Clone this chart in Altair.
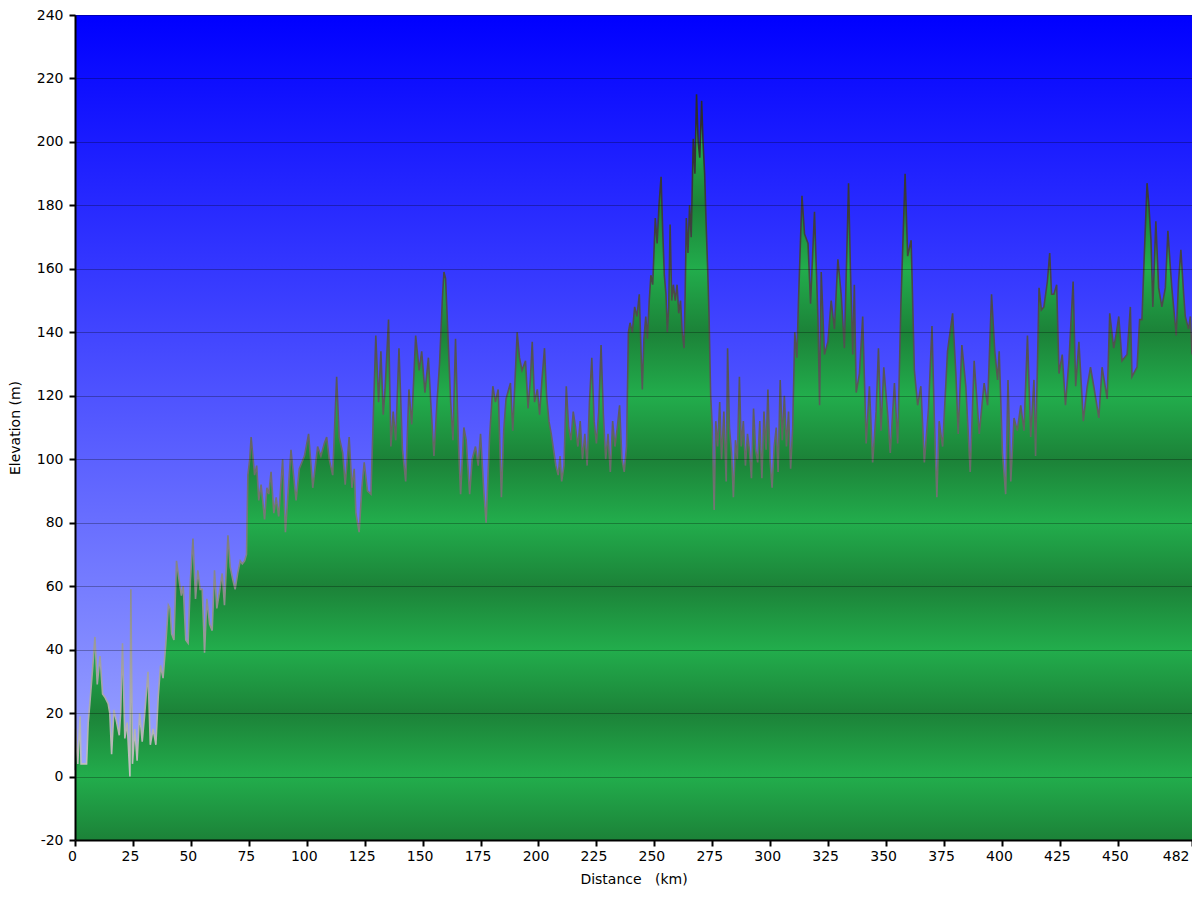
import altair as alt
import pandas as pd

# ---------------- data ----------------
distance_km = [
    0.0, 0.3, 0.8, 1.2, 2.2, 2.6, 5.0, 5.7, 6.4, 7.6, 8.6, 9.6, 10.8, 11.9, 12.9, 14.3, 15.0, 15.8,
    16.8, 18.0, 19.1, 19.7, 20.5, 21.5, 22.5, 23.7, 24.1, 24.8, 25.8, 26.8, 27.9, 29.0, 30.0, 31.5,
    32.5, 33.7, 34.9, 35.9, 36.9, 38.0, 39.2, 40.3, 41.0, 41.7, 42.7, 43.8, 44.9, 45.9, 46.7, 47.8,
    48.8, 49.8, 50.9, 52.0, 53.0, 54.0, 54.9, 55.9, 56.9, 58.1, 59.2, 60.2, 61.2, 62.3, 63.5, 64.5,
    66.0, 67.0, 68.1, 69.1, 70.2, 71.3, 72.2, 73.2, 74.0, 74.6, 75.4, 76.0,
    77.5, 78.4, 79.3, 80.3, 81.8, 82.8, 83.6, 84.6, 85.8, 86.8, 87.9, 89.6, 90.8, 93.2, 95.4, 96.8,
    99.0, 100.8, 102.6, 104.7, 106.1, 107.6, 108.6, 109.7, 111.2, 112.9, 114.0, 115.5, 116.6, 118.3,
    119.5, 120.5, 121.2, 122.6, 123.8, 124.8, 126.2, 127.7, 128.7, 129.8, 131.0, 132.0, 133.0, 133.8,
    135.3, 136.3, 137.3, 138.4, 139.8, 141.3, 142.7, 144.1, 145.3, 147.0, 148.5, 149.6, 151.0, 152.5,
    153.5, 154.9, 156.3, 157.3, 158.5, 159.2, 159.9, 160.6, 162.1, 163.1, 164.2, 165.4, 166.4, 167.8,
    168.8, 170.3, 171.4, 172.8, 174.0, 175.0, 176.4, 177.4, 178.9, 180.3, 181.4, 182.6, 184.0, 185.0,
    186.0, 187.9, 188.9, 190.8, 191.8, 192.9, 194.4, 195.5,
    196.5, 197.3, 198.3, 199.5, 200.5, 201.5, 202.6, 203.5, 204.5, 205.5, 206.5, 207.5, 208.5, 209.3,
    210.0, 211.0, 212.0, 213.0, 214.0, 215.0, 216.0, 217.0, 218.0, 219.0, 220.0, 221.0, 222.0, 223.0,
    224.0, 225.0, 226.0, 227.0, 228.0, 229.0, 230.0, 231.0, 232.0, 233.0, 234.0, 235.0, 236.0, 237.0,
    238.0,
    238.8, 239.5, 240.5, 241.5, 242.5, 243.5, 244.2, 244.8, 245.5, 246.3, 247.0, 247.8, 248.5, 249.3,
    250.4, 251.2, 252.0, 252.9, 253.6, 254.3, 255.0, 255.6, 256.2, 256.8, 257.5, 258.2, 259.0, 259.8,
    260.5, 261.3, 262.0, 262.8, 263.3, 263.8, 264.5, 265.2, 265.9, 266.8, 267.5, 268.2, 268.9, 269.6,
    270.4, 271.0, 271.7, 272.3, 273.0, 273.6, 274.3, 275.0, 275.8,
    276.5, 277.3, 278.2, 279.0, 280.0, 281.0, 281.6, 282.4, 283.3, 284.1, 285.0, 285.8, 286.7, 287.5,
    288.4, 289.3, 290.2, 291.0, 291.9, 292.8, 293.7, 294.6, 295.5, 296.4, 297.3, 298.2, 299.0, 299.9,
    300.8, 301.7, 302.6, 303.4, 304.3, 305.2, 306.1, 307.0, 307.9, 308.8, 309.7, 310.6, 311.5,
    312.2, 313.7, 314.8, 316.3, 317.4, 319.1, 320.6, 321.3, 322.0, 323.4, 324.9, 326.3, 327.7, 329.2,
    330.6, 332.0, 333.8, 334.6, 335.6, 336.3, 337.1, 338.5, 339.9, 341.4, 342.8, 344.2, 345.7, 346.7,
    347.8, 349.0, 350.7, 351.8, 353.6, 355.0, 356.4, 358.2, 359.3, 360.8, 362.2, 363.6, 365.0, 366.5,
    368.3, 369.8, 370.8, 371.9, 372.9, 374.4, 376.5, 378.7, 380.1, 381.1, 382.7, 384.4, 386.3, 388.0,
    390.2, 392.3, 393.8, 395.5, 396.9, 398.1, 398.8, 400.2, 401.6, 402.6, 403.8, 405.2, 406.6, 408.1,
    409.5, 411.0, 412.4, 413.8, 414.5, 416.0, 417.0, 418.1, 419.6, 420.6, 421.4, 422.4, 423.6, 424.6,
    426.0, 427.4, 428.9, 430.7, 431.8, 433.2, 435.1, 436.8, 438.2, 439.6, 441.8, 443.2, 445.4, 446.5,
    448.2, 449.4, 450.4, 451.8, 454.0, 455.4, 456.1, 458.3, 459.4, 460.4, 461.4, 462.6, 463.4, 464.3,
    465.1, 466.4, 467.6, 469.0, 470.5, 471.6, 472.6, 473.3, 475.2, 476.2, 477.2, 478.4, 479.1, 480.5,
    481.3, 482.0,
]

elevation_m = [
    2, 15, 8, 4, 19, 4, 4, 17, 23, 34, 44, 29, 38, 26, 25, 23, 20, 7,
    21, 17, 13, 20, 42, 12, 17, 0, 59, 4, 15, 5, 20, 11, 19, 33,
    10, 15, 10, 25, 35, 31, 42, 54, 53, 45, 43, 68, 62, 57, 60, 43,
    42, 62, 75, 56, 65, 59, 59, 39, 56, 48, 46, 65, 53, 58, 64, 54,
    76, 66, 62, 59, 64, 68, 67, 68, 70, 95, 100, 107,
    95, 98, 87, 92, 81, 91, 89, 96, 83, 88, 82, 100, 77, 103, 87, 97,
    101, 108, 91, 104, 101, 105, 107, 100, 95, 126, 107, 102, 92, 107,
    91, 97, 83, 77, 91, 99, 90, 89, 113, 139, 118, 134, 114, 122,
    144, 104, 115, 106, 135, 103, 93, 122, 111, 139, 128, 134, 121, 132,
    118, 101, 119, 130, 150, 159, 157, 145, 118, 106, 138, 106, 89, 110,
    106, 89, 100, 104, 98, 108, 90, 80, 107, 123, 118, 122, 88, 109,
    119, 124, 109, 140, 132, 128, 131, 116,
    125, 137, 118, 122, 114, 125, 135, 120, 112, 108, 103, 98, 95, 101,
    93, 98, 123, 110, 106, 115, 110, 104, 112, 100, 108, 98, 118, 132,
    112, 105, 115, 136, 114, 100, 108, 96, 112, 104, 110, 117, 100, 96,
    104,
    140, 143, 140, 148, 145, 152, 135, 122, 138, 145, 138, 150, 158, 155,
    176, 168, 180, 189, 172, 158, 152, 140, 148, 174, 150, 155, 150, 155,
    146, 150, 140, 135, 152, 176, 165, 180, 170, 201, 190, 215, 200, 195,
    213, 200, 190, 175, 160, 145, 120, 110, 84,
    112, 104, 118, 100, 115, 93, 135, 110, 102, 88, 106, 100, 126, 104,
    112, 98, 108, 103, 94, 116, 103, 99, 112, 94, 115, 103, 122, 100,
    91, 104, 110, 96, 125, 106, 120, 104, 115, 97, 110, 140, 132,
    150, 183, 171, 168, 149, 178, 144, 117, 159, 133, 137, 150, 141, 163,
    152, 135, 187, 160, 133, 155, 121, 127, 145, 105, 123, 99, 115, 135,
    109, 129, 114, 102, 124, 105, 149, 190, 164, 169, 128, 117, 123, 99,
    116, 142, 113, 88, 112, 104, 134, 146, 127, 108, 136, 123, 96, 131,
    108, 124, 117, 152, 134, 125, 134, 102, 89, 125, 93, 113, 109, 117,
    109, 139, 107, 125, 101, 154, 147, 148, 156, 165, 152, 152, 155, 127,
    133, 117, 131, 156, 123, 137, 112, 123, 129, 123, 113, 129, 119, 146,
    135, 140, 145, 131, 133, 148, 126, 129, 144, 144, 164, 187, 180, 169,
    148, 175, 154, 148, 154, 172, 161, 154, 139, 156, 166, 152, 145, 141,
    145, 133,
]

x_tick_values = [0, 25, 50, 75, 100, 125, 150, 175, 200, 225, 250, 275, 300,
                 325, 350, 375, 400, 425, 450, 482]
y_tick_values = [-20, 0, 20, 40, 60, 80, 100, 120, 140, 160, 180, 200, 220, 240]

X_MIN, X_MAX = 0, 482
Y_MIN, Y_MAX = -20, 240

df = pd.DataFrame({"distance_km": distance_km, "elevation_m": elevation_m})

# ---------------- styles ----------------
FONT = "DejaVu Sans"
FS = 14
GREEN_BRIGHT = "#22ad4c"
GREEN_DARK = "#1c8238"


def _mix(c1, c2, t):
    a = [int(c1[i:i + 2], 16) for i in (1, 3, 5)]
    b = [int(c2[i:i + 2], 16) for i in (1, 3, 5)]
    return "#" + "".join(f"{round(a[k] + (b[k] - a[k]) * t):02x}" for k in range(3))


# banded green fill: bright at multiples of 40 m, dark in between
vmax = max(elevation_m)
span = vmax - Y_MIN
green_stops = []
top_level = (vmax // 20) * 20
frac = (vmax - top_level) / 20.0
top_base = GREEN_BRIGHT if top_level % 40 == 0 else GREEN_DARK
top_next = GREEN_DARK if top_level % 40 == 0 else GREEN_BRIGHT
green_stops.append(alt.GradientStop(color=_mix(top_base, top_next, frac), offset=0))
for lvl in range(int(top_level), Y_MIN - 1, -20):
    off = (vmax - lvl) / span
    col = GREEN_BRIGHT if lvl % 40 == 0 else GREEN_DARK
    green_stops.append(alt.GradientStop(color=col, offset=min(max(off, 0), 1)))

area_fill = alt.LinearGradient(gradient="linear", stops=green_stops, x1=0, x2=0, y1=0, y2=1)

line_stroke = alt.LinearGradient(
    gradient="linear",
    stops=[
        alt.GradientStop(color="#2a2a2a", offset=0),
        alt.GradientStop(color="#5a5a5a", offset=0.45),
        alt.GradientStop(color="#959595", offset=0.78),
        alt.GradientStop(color="#c2c2c2", offset=1),
    ],
    x1=0, x2=0, y1=0, y2=1,
)

sky_fill = alt.LinearGradient(
    gradient="linear",
    stops=[
        alt.GradientStop(color="#0000ff", offset=0),
        alt.GradientStop(color="#aab4ff", offset=1),
    ],
    x1=0, x2=0, y1=0, y2=1,
)

x_scale = alt.Scale(domain=[X_MIN, X_MAX], nice=False, zero=False)
y_scale = alt.Scale(domain=[Y_MIN, Y_MAX], nice=False, zero=False)

hyphen_label = "datum.value < 0 ? '-' + abs(datum.value) : '' + datum.value"

x_axis = alt.Axis(
    values=x_tick_values,
    title="Distance\u00a0\u00a0\u00a0(km)",
    grid=False,
    domainColor="black", domainWidth=2,
    tickColor="black", tickWidth=2, tickSize=6,
    labelFont=FONT, labelFontSize=FS, labelColor="black",
    labelPadding=3, labelOffset=-3,
    labelAlign={"condition": {"test": "datum.value >= 482", "value": "right"}, "value": "center"},
    labelOverlap=False,
    titleFont=FONT, titleFontSize=FS, titleFontWeight="normal", titleColor="black",
    titlePadding=9,
    zindex=1,
)

y_axis = alt.Axis(
    values=y_tick_values,
    title="Elevation (m)",
    labelExpr=hyphen_label,
    grid=True, gridColor="black", gridOpacity=0.28, gridWidth=1,
    domainColor="black", domainWidth=2,
    tickColor="black", tickWidth=2, tickSize=6,
    labelFont=FONT, labelFontSize=FS, labelColor="black",
    labelPadding=6, labelOverlap=False,
    titleFont=FONT, titleFontSize=FS, titleFontWeight="normal", titleColor="black",
    titlePadding=14,
    zindex=1,
)

sky = alt.Chart(pd.DataFrame({"k": [0]})).mark_rect(fill=sky_fill, stroke=None).encode(
    x=alt.X(datum=X_MIN, scale=x_scale),
    x2=alt.X2(datum=X_MAX),
    y=alt.Y(datum=Y_MAX, scale=y_scale),
    y2=alt.Y2(datum=Y_MIN),
)

base = alt.Chart(df).encode(
    x=alt.X("distance_km:Q", scale=x_scale, axis=x_axis),
    y=alt.Y("elevation_m:Q", scale=y_scale, axis=y_axis),
)

ground = base.mark_area(fill=area_fill, interpolate="linear").encode(y2=alt.Y2(datum=Y_MIN))
outline = base.mark_line(stroke=line_stroke, strokeWidth=1.6, interpolate="linear")

chart = (
    alt.layer(sky, ground, outline)
    .properties(
        width=1117,
        height=825,
        autosize=alt.AutoSizeParams(type="none"),
        padding={"left": 67, "top": 7, "right": 0, "bottom": 47},
        background="white",
    )
    .configure_view(strokeWidth=0)
)

chart.save("out.html", embed_options={"renderer": "svg", "actions": False})
